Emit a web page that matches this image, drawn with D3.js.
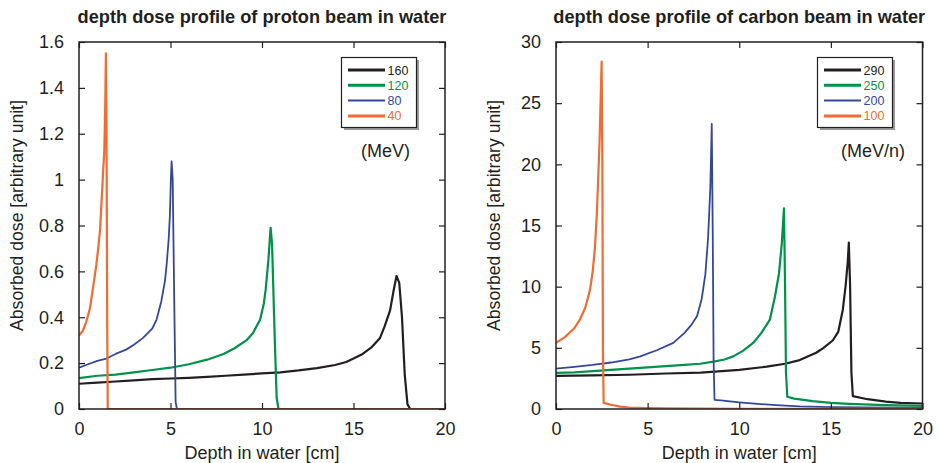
<!DOCTYPE html>
<html lang="en">
<head>
    <meta charset="UTF-8">
    <title>Depth dose profiles of proton and carbon beams in water</title>
    <script src="https://d3js.org/d3.v7.min.js"></script>
    <style>
        body {
            margin: 0;
            background: #fff;
            font-family: "Liberation Sans", Arial, sans-serif;
        }
        svg {
            display: block;
        }
    </style>
</head>
<body>
    <svg id="chart" width="940" height="463"></svg>
    <script>
        // depth [cm], dose [arbitrary unit]
        const proton160 = [[0,0.11],[1,0.115],[2,0.12],[3,0.125],[4,0.13],[5,0.133],[6,0.136],[7,0.14],[8,0.145],[9,0.15],[10,0.155],[11,0.16],[12,0.168],[13,0.178],[14,0.192],[14.6,0.205],[15,0.22],[15.5,0.24],[16,0.27],[16.45,0.31],[16.7,0.36],[17.0,0.43],[17.2,0.52],[17.35,0.58],[17.5,0.55],[17.65,0.4],[17.8,0.15],[17.95,0.02],[18.1,0],[20,0]];
        const proton120 = [[0,0.135],[1,0.145],[2,0.15],[3,0.16],[4,0.17],[5,0.18],[6,0.195],[7,0.215],[7.9,0.24],[8.5,0.265],[9.16,0.3],[9.5,0.33],[9.9,0.39],[10.1,0.46],[10.2,0.52],[10.35,0.65],[10.47,0.79],[10.55,0.72],[10.68,0.35],[10.8,0.05],[10.9,0],[20,0]];
        const proton80 = [[0,0.18],[0.5,0.195],[1,0.21],[1.5,0.22],[2,0.24],[2.6,0.26],[3,0.28],[3.5,0.31],[4,0.35],[4.24,0.39],[4.5,0.47],[4.7,0.56],[4.79,0.63],[4.9,0.74],[4.97,0.85],[5.02,1.0],[5.06,1.08],[5.12,1.0],[5.2,0.5],[5.28,0.03],[5.35,0],[20,0]];
        const proton40 = [[0,0.32],[0.2,0.34],[0.4,0.38],[0.6,0.44],[0.77,0.53],[0.95,0.63],[1.05,0.7],[1.15,0.78],[1.25,0.93],[1.33,1.05],[1.38,1.12],[1.43,1.3],[1.47,1.55],[1.5,1.3],[1.54,0.4],[1.57,0],[20,0]];

        const carbon290 = [[0,2.7],[2,2.75],[4,2.8],[6,2.9],[7.9,2.97],[10,3.2],[11.5,3.46],[12.5,3.7],[13.3,4.0],[14.2,4.6],[14.6,5.0],[15.1,5.6],[15.4,6.3],[15.65,8.1],[15.8,10],[15.92,12],[15.98,13.6],[16.05,10],[16.12,3],[16.2,1.05],[17,0.8],[18,0.6],[18.8,0.5],[20,0.45]];
        const carbon250 = [[0,2.95],[1,3.0],[2,3.1],[3,3.2],[4,3.3],[5,3.4],[6,3.5],[7,3.6],[7.86,3.7],[8.6,3.87],[9.2,4.05],[9.67,4.3],[10.2,4.75],[10.76,5.4],[11.2,6.2],[11.67,7.3],[11.95,9.2],[12.17,11.1],[12.32,13.5],[12.44,16.4],[12.5,10],[12.55,3],[12.62,1.0],[13,0.85],[14,0.65],[15,0.5],[16,0.42],[18,0.32],[20,0.25]];
        const carbon200 = [[0,3.3],[1,3.45],[2,3.6],[3,3.8],[4,4.05],[4.6,4.3],[5.5,4.8],[6.4,5.4],[7,6.2],[7.4,6.9],[7.7,7.6],[7.95,9.0],[8.15,11],[8.3,14],[8.42,18],[8.5,23.3],[8.55,15],[8.6,4],[8.65,0.75],[9,0.7],[10,0.55],[11,0.42],[12,0.32],[13.3,0.22],[15,0.16],[17,0.13],[20,0.1]];
        const carbon100 = [[0,5.4],[0.5,5.9],[1,6.6],[1.3,7.3],[1.6,8.3],[1.85,9.7],[2.0,11.2],[2.13,13.3],[2.23,16],[2.3,18.7],[2.38,22],[2.44,25.5],[2.49,28.4],[2.53,20],[2.56,5],[2.6,0.5],[3,0.35],[3.5,0.2],[4,0.12],[5,0.08],[6,0.05],[8,0.03],[10,0.02],[20,0.01]];

        const protonLabels = ["160", "120", "80", "40"];
        const carbonLabels = ["290", "250", "200", "100"];
        const xTicks = [0, 5, 10, 15, 20];
        const protonTicks = [0, 0.2, 0.4, 0.6, 0.8, 1, 1.2, 1.4, 1.6];
        const carbonTicks = [0, 5, 10, 15, 20, 25, 30];

        const colors = ["#231f20", "#00924a", "#34479c", "#f26b30"];
        const widths = [2.2, 2.2, 1.8, 2.2];
        const legendWidths = [3, 3, 2, 3];
        const ink = "#231f20";

        const svg = d3.select("#chart");
        const plotTop = 42, plotBottom = 409;

        function drawPanel(opt) {
            const x = d3.scaleLinear().domain([0, 20]).range([opt.left, opt.right]);
            const y = d3.scaleLinear().domain([0, opt.yMax]).range([plotBottom, plotTop]);
            const g = svg.append("g");

            const clipId = "clip" + opt.left;
            g.append("clipPath").attr("id", clipId)
                .append("rect")
                .attr("x", opt.left).attr("y", plotTop)
                .attr("width", opt.right - opt.left).attr("height", plotBottom - plotTop);

            // curves
            const line = d3.line().x(d => x(d[0])).y(d => y(d[1]));
            g.append("g").attr("clip-path", `url(#${clipId})`)
                .selectAll("path")
                .data(opt.series)
                .join("path")
                .attr("d", line)
                .attr("fill", "none")
                .attr("stroke", (d, i) => colors[i])
                .attr("stroke-width", (d, i) => widths[i])
                .attr("stroke-linejoin", "round");

            // inward ticks on all four sides
            const tick = 6;
            const fmt = d3.format("~g");
            g.append("g").attr("transform", `translate(0,${plotBottom})`)
                .call(d3.axisBottom(x).tickValues(xTicks).tickFormat(fmt).tickSizeInner(-tick).tickSizeOuter(0).tickPadding(tick + 7));
            g.append("g").attr("transform", `translate(0,${plotTop})`)
                .call(d3.axisTop(x).tickValues(xTicks).tickSizeInner(-tick).tickSizeOuter(0).tickFormat(""));
            g.append("g").attr("transform", `translate(${opt.left},0)`)
                .call(d3.axisLeft(y).tickValues(opt.yTicks).tickFormat(fmt).tickSizeInner(-tick).tickSizeOuter(0).tickPadding(tick + 9));
            g.append("g").attr("transform", `translate(${opt.right},0)`)
                .call(d3.axisRight(y).tickValues(opt.yTicks).tickSizeInner(-tick).tickSizeOuter(0).tickFormat(""));

            g.selectAll(".domain").remove();
            g.selectAll(".tick line").attr("stroke", ink).attr("stroke-width", 1.2);
            g.selectAll(".tick text")
                .attr("fill", ink)
                .style("font-family", "'Liberation Sans', Arial, sans-serif")
                .style("font-size", "18px");

            g.append("rect")
                .attr("x", opt.left).attr("y", plotTop)
                .attr("width", opt.right - opt.left).attr("height", plotBottom - plotTop)
                .attr("fill", "none").attr("stroke", ink).attr("stroke-width", 1.5);

            // titles
            g.append("text")
                .attr("x", (opt.left + opt.right) / 2).attr("y", 23)
                .attr("text-anchor", "middle")
                .attr("fill", ink)
                .style("font-size", "18.2px").style("font-weight", "bold")
                .text(opt.title);
            g.append("text")
                .attr("x", (opt.left + opt.right) / 2).attr("y", 459)
                .attr("text-anchor", "middle")
                .attr("fill", ink)
                .style("font-size", "18px")
                .text("Depth in water [cm]");
            g.append("text")
                .attr("transform", `translate(${opt.left - 56},${(plotTop + plotBottom) / 2 - 10}) rotate(-90)`)
                .attr("text-anchor", "middle")
                .attr("fill", ink)
                .style("font-size", "17.6px")
                .text("Absorbed dose [arbitrary unit]");

            // legend
            const lg = g.append("g").attr("transform", `translate(${opt.legX},57.5)`);
            lg.append("rect")
                .attr("x", 2.5).attr("y", 2.5)
                .attr("width", opt.legW).attr("height", 70)
                .attr("fill", "#9a9a9a");
            lg.append("rect")
                .attr("width", opt.legW).attr("height", 70)
                .attr("fill", "#fff").attr("stroke", ink).attr("stroke-width", 1.2);
            const rows = lg.selectAll(".row")
                .data(opt.labels)
                .join("g")
                .attr("transform", (d, i) => `translate(0,${12.5 + i * 15.3})`);
            rows.append("line")
                .attr("x1", 6.5).attr("x2", 43.5)
                .attr("stroke", (d, i) => colors[i])
                .attr("stroke-width", (d, i) => legendWidths[i]);
            rows.append("text")
                .attr("x", 46).attr("dy", "0.36em")
                .attr("fill", (d, i) => colors[i])
                .style("font-size", "12.5px")
                .text(d => d);

            g.append("text")
                .attr("x", opt.unitX).attr("y", 157)
                .attr("fill", ink)
                .style("font-size", "18px")
                .text(opt.unit);
        }

        drawPanel({
            left: 79, right: 445, yMax: 1.6, yTicks: protonTicks,
            series: [proton160, proton120, proton80, proton40],
            labels: protonLabels,
            title: "depth dose profile of proton beam in water",
            legX: 341.5, legW: 75, unit: "(MeV)", unitX: 361
        });
        drawPanel({
            left: 556, right: 922.5, yMax: 30, yTicks: carbonTicks,
            series: [carbon290, carbon250, carbon200, carbon100],
            labels: carbonLabels,
            title: "depth dose profile of carbon beam in water",
            legX: 817.5, legW: 75, unit: "(MeV/n)", unitX: 841
        });
    </script>
</body>
</html>
